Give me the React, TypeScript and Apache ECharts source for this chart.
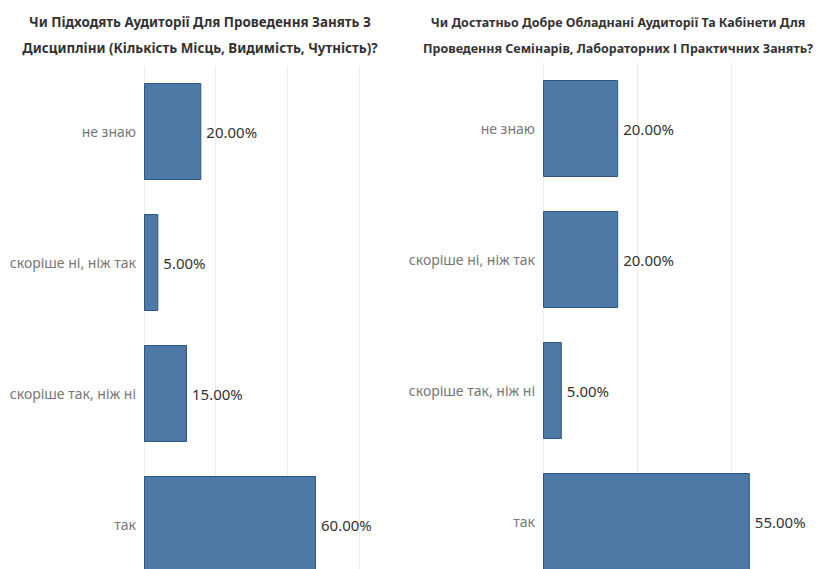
import React, { useEffect, useRef } from "react";
import * as echarts from "echarts";

const categories = ["не знаю", "скоріше ні, ніж так", "скоріше так, ніж ні", "так"];
const leftValues = [20, 5, 15, 60];
const rightValues = [20, 20, 5, 55];
const leftTitle = "Чи Підходять Аудиторії Для Проведення Занять З\nДисципліни (Кількість Місць, Видимість, Чутність)?";
const rightTitle = "Чи Достатньо Добре Обладнані Аудиторії Та Кабінети Для\nПроведення Семінарів, Лабораторних І Практичних Занять?";
const axisMax = 75;
const axisInterval = 25;

const FONT = "'Noto Sans', 'Open Sans', sans-serif";

export default function App() {
  const ref = useRef<HTMLDivElement>(null);
  useEffect(() => {
    if (!ref.current) return;
    const chart = echarts.init(ref.current, null, { renderer: "svg" });
    const barColor = "#4e79a7";
    const mkX = (gridIndex: number) => ({
      type: "value",
      gridIndex,
      min: 0,
      max: axisMax,
      interval: axisInterval,
      axisLabel: { show: false },
      axisLine: { show: false },
      axisTick: { show: false },
      splitLine: { show: true, lineStyle: { color: "#ececec", width: 1 } },
    });
    const mkY = (gridIndex: number) => ({
      type: "category",
      gridIndex,
      data: categories,
      inverse: true,
      axisLine: { show: false },
      axisTick: { show: false },
      axisLabel: { color: "#777", fontSize: 14, fontFamily: FONT, margin: 8 },
    });
    const mkSeries = (idx: number, data: number[]) => ({
      type: "bar",
      xAxisIndex: idx,
      yAxisIndex: idx,
      data,
      barCategoryGap: "26%",
      itemStyle: { color: barColor, borderColor: "#2b5582", borderWidth: 1 },
      label: {
        show: true,
        position: "right",
        distance: 5,
        color: "#333",
        fontSize: 15,
        fontFamily: FONT,
        formatter: (p: any) => Number(p.value).toFixed(2) + "%",
      },
    });
    const titleStyle = { fontWeight: "bold", color: "#333", fontFamily: FONT, lineHeight: 26, align: "center" };
    chart.setOption({
      animation: false,
      backgroundColor: "#fff",
      title: [
        {
          text: leftTitle,
          left: 195,
          top: 4,
          textAlign: "center",
          textStyle: { ...titleStyle, fontSize: 13.4 },
        },
        {
          text: rightTitle,
          left: 613,
          top: 4,
          textAlign: "center",
          textStyle: { ...titleStyle, fontSize: 12.5 },
        },
      ],
      grid: [
        { left: 144, top: 66, width: 215, height: 524 },
        { left: 543, top: 63, width: 282, height: 524 },
      ],
      xAxis: [mkX(0), mkX(1)],
      yAxis: [mkY(0), mkY(1)],
      series: [mkSeries(0, leftValues), mkSeries(1, rightValues)],
    });
    return () => chart.dispose();
  }, []);
  return (
    <div style={{ width: 819, height: 569, position: "absolute", left: 0, top: 0, overflow: "hidden", background: "#fff" }}>
      <div ref={ref} style={{ width: 840, height: 600 }} />
    </div>
  );
}
